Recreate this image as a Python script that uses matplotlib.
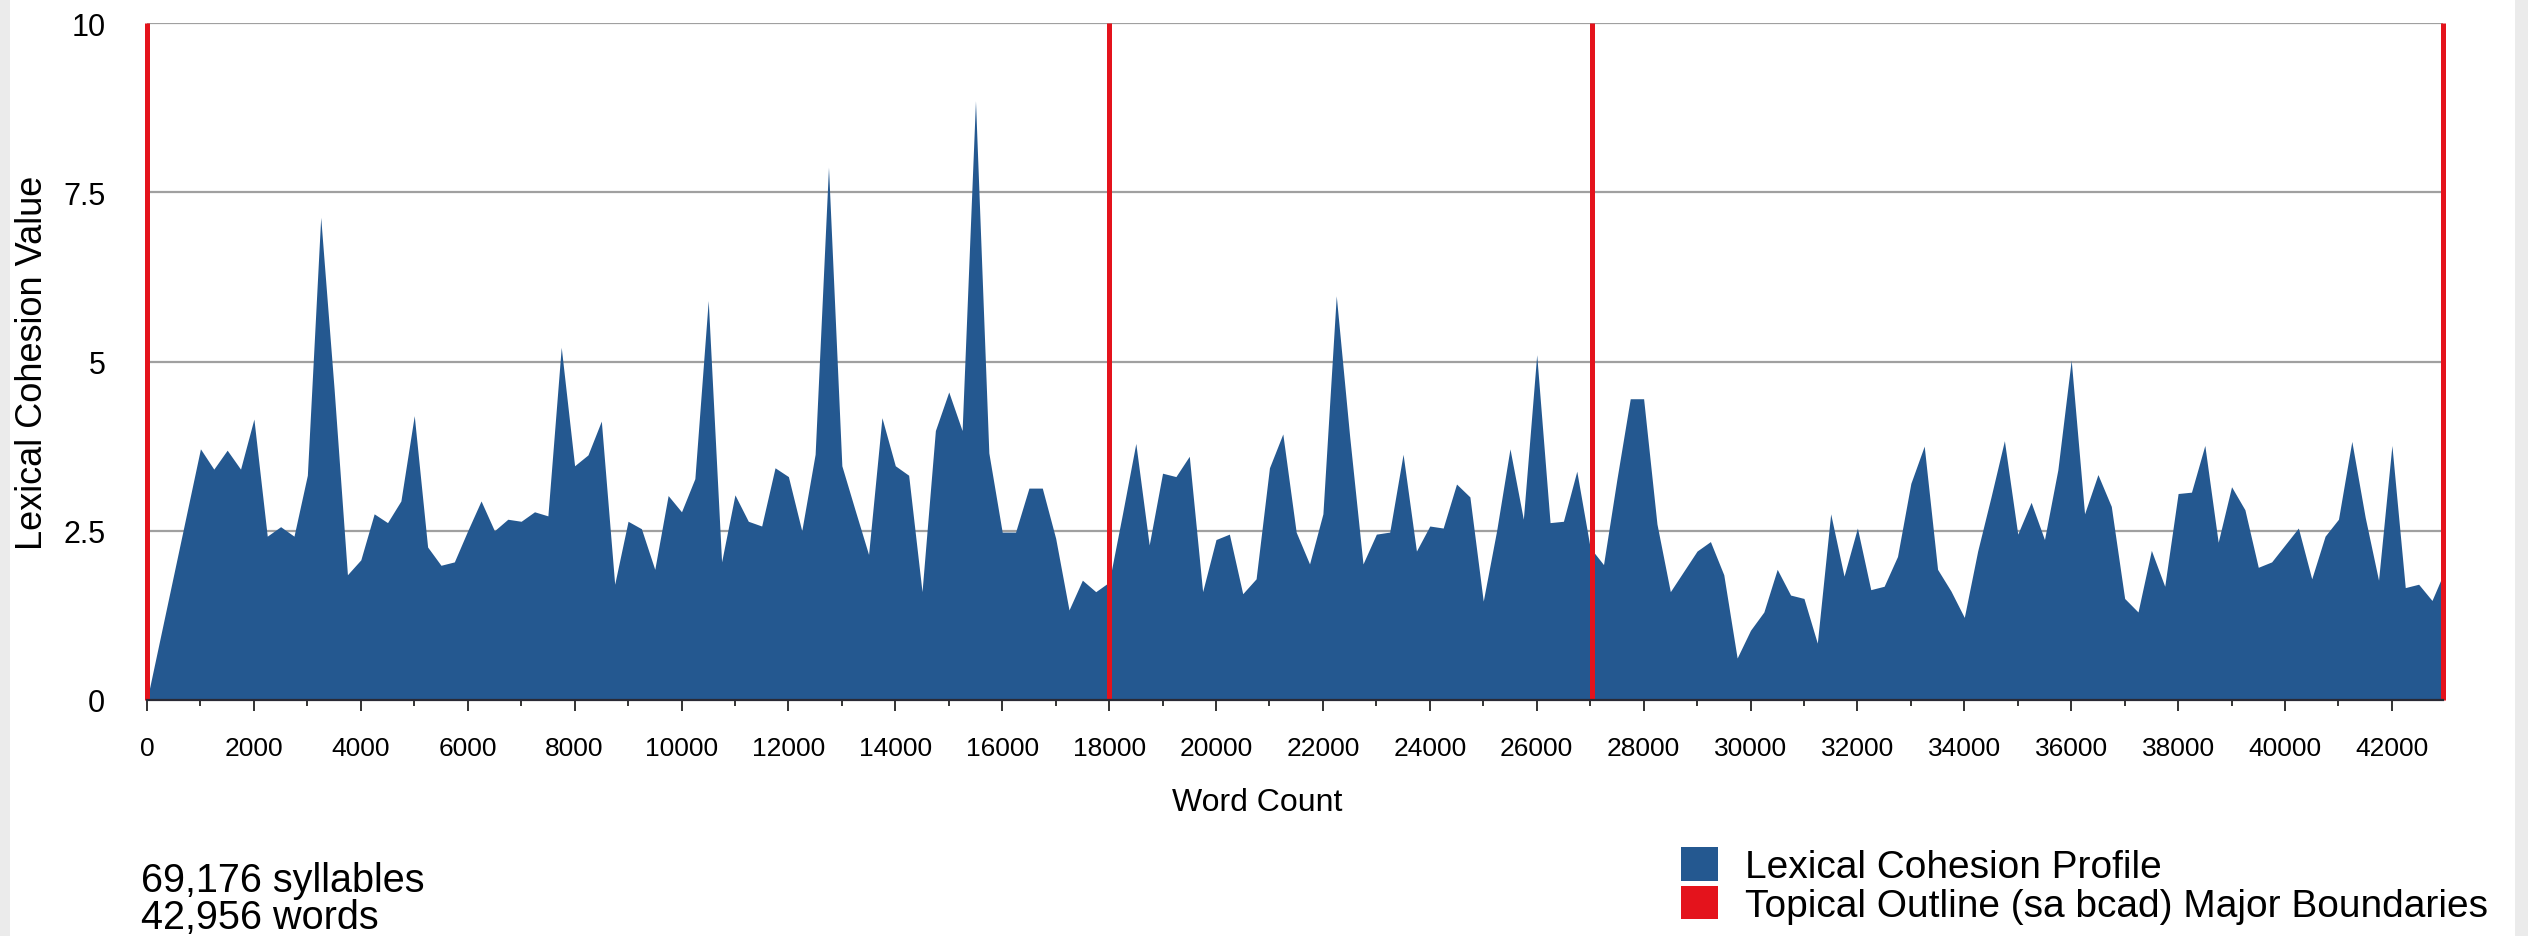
import matplotlib
matplotlib.use("Agg")
import matplotlib.pyplot as plt
from matplotlib.patches import Patch, Rectangle

plt.rcParams['font.family'] = ['Liberation Sans', 'DejaVu Sans']

# cohesion profile, one window every 250 words (first window closes at 1000)
word_count = [0] + list(range(1000, 42751, 250)) + [42956]
cohesion = [
    0.0,
    3.71, 3.41, 3.69, 3.41, 4.15, 2.42, 2.56, 2.42,
    3.32, 7.13, 4.60, 1.85, 2.07, 2.75, 2.62, 2.94,
    4.20, 2.26, 1.99, 2.04, 2.50, 2.94, 2.50, 2.67,
    2.64, 2.78, 2.72, 5.21, 3.46, 3.62, 4.12, 1.71,
    2.64, 2.53, 1.93, 3.02, 2.78, 3.27, 5.90, 2.04,
    3.03, 2.64, 2.57, 3.43, 3.30, 2.50, 3.63, 7.87,
    3.46, 2.80, 2.15, 4.17, 3.46, 3.32, 1.60, 3.98,
    4.55, 3.98, 8.85, 3.65, 2.48, 2.48, 3.13, 3.13,
    2.39, 1.33, 1.77, 1.60, 1.74, 2.75, 3.79, 2.29,
    3.35, 3.30, 3.60, 1.60, 2.37, 2.45, 1.57, 1.79,
    3.43, 3.93, 2.48, 2.01, 2.75, 5.97, 3.90, 2.01,
    2.45, 2.48, 3.63, 2.20, 2.57, 2.54, 3.19, 3.00,
    1.46, 2.50, 3.71, 2.67, 5.10, 2.62, 2.64, 3.38,
    2.25, 2.00, 3.26, 4.45, 4.45, 2.60, 1.60, 1.90,
    2.20, 2.34, 1.85, 0.62, 1.03, 1.30, 1.93, 1.55,
    1.50, 0.84, 2.75, 1.83, 2.54, 1.63, 1.68, 2.12,
    3.20, 3.75, 1.93, 1.61, 1.22, 2.20, 3.00, 3.83,
    2.45, 2.92, 2.37, 3.40, 5.02, 2.75, 3.33, 2.86,
    1.50, 1.30, 2.21, 1.68, 3.05, 3.07, 3.76, 2.33,
    3.15, 2.81, 1.96, 2.04, 2.29, 2.54, 1.79, 2.42,
    2.67, 3.82, 2.70, 1.77, 3.76, 1.66, 1.71, 1.47,
    1.85,
]

# major boundaries of the topical outline (sa bcad)
boundaries = [0, 18000, 27030, 42956]

total_syllables = 69176
total_words = 42956

y_ticks = [0, 2.5, 5, 7.5, 10]
y_tick_labels = ["0", "2.5", "5", "7.5", "10"]

blue = "#245890"
red = "#e4131c"

W, H = 2528, 937
fig = plt.figure(figsize=(W / 100, H / 100), dpi=100)
fig.patch.set_facecolor("white")

# light grey margins at both sides
fig.add_artist(Rectangle((0, 0), 10 / W, 1, transform=fig.transFigure,
                         facecolor="#ebebeb", edgecolor="none"))
fig.add_artist(Rectangle((2515 / W, 0), 13 / W, 1, transform=fig.transFigure,
                         facecolor="#ebebeb", edgecolor="none"))

ax = fig.add_axes([147 / W, 236 / H, 2296 / W, 677 / H])
ax.set_facecolor("white")

ax.fill_between(word_count, cohesion, 0, color=blue, linewidth=0, zorder=2)
ax.vlines(boundaries, 0, 10, color=red, linewidth=3.6, zorder=3, clip_on=False)

ax.set_xlim(0, total_words)
ax.set_ylim(0, 10)

ax.set_yticks(y_ticks)
ax.set_yticklabels(y_tick_labels)
ax.yaxis.grid(True, color="#a0a0a0", linewidth=1.6, zorder=0)
ax.set_axisbelow(True)

ax.set_xticks(range(0, 42001, 2000))
ax.set_xticks(range(1000, 43000, 2000), minor=True)
ax.tick_params(axis="x", which="major", length=8, width=1.4, color="#333333",
               labelsize=19, pad=18)
ax.tick_params(axis="x", which="minor", length=4.5, width=1.4, color="#333333")
ax.tick_params(axis="y", length=0, labelsize=22, pad=30)

for side in ("top", "left", "right"):
    ax.spines[side].set_visible(False)
ax.spines["bottom"].set_color("#2a2a35")
ax.spines["bottom"].set_linewidth(1.6)
ax.spines["bottom"].set_zorder(4)

ax.set_xlabel("Word Count", fontsize=23)
ax.xaxis.label.set_va("center")
ax.xaxis.set_label_coords(0.4834, -0.1507)
ax.set_ylabel("Lexical Cohesion Value", fontsize=26)
ax.yaxis.label.set_va("center")
ax.yaxis.set_label_coords(-0.050, 0.5)

fig.text(141 / W, 1 - 881 / H, f"{total_syllables:,} syllables",
         fontsize=28.5, va="center", ha="left")
fig.text(141 / W, 1 - 918 / H, f"{total_words:,} words",
         fontsize=28.5, va="center", ha="left")

handles = [Patch(facecolor=blue, edgecolor="none"),
           Patch(facecolor=red, edgecolor="none")]
fig.legend(handles, ["Lexical Cohesion Profile",
                     "Topical Outline (sa bcad) Major Boundaries"],
           loc="upper left", bbox_to_anchor=(1681 / W, 1 - 848 / H),
           frameon=False, fontsize=28, handlelength=0.95, handleheight=0.95,
           handletextpad=0.7, labelspacing=0.02, borderpad=0, borderaxespad=0)

fig.savefig("out.png", dpi=100, facecolor=fig.get_facecolor())
